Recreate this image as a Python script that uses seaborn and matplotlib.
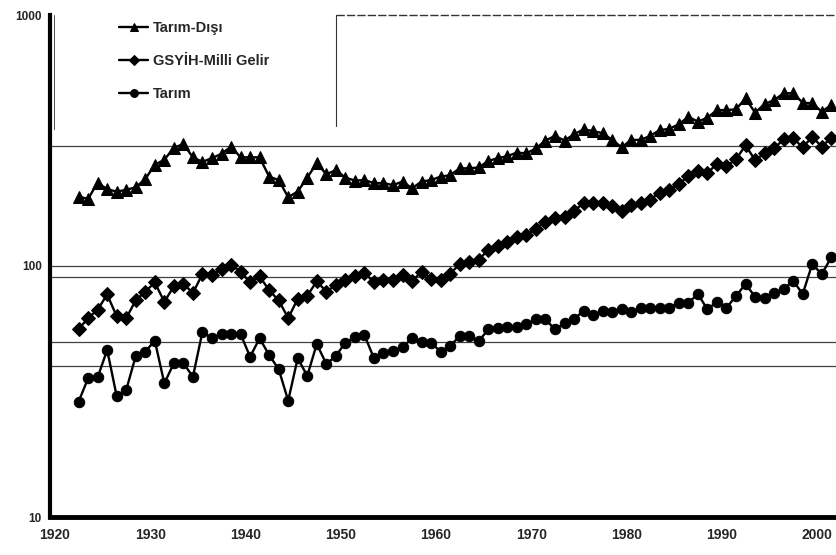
import matplotlib
matplotlib.use("Agg")
import matplotlib.pyplot as plt
import matplotlib.transforms as mtrans
import seaborn as sns
from matplotlib.ticker import MultipleLocator, NullLocator

# yillar ve seriler (endeks, log olcek)
years = list(range(1923, 2003))

tarim_disi = [189, 185, 215, 202, 198, 201, 206, 222, 253, 265,
              296, 306, 271, 260, 269, 280, 299, 271, 271, 271,
              227, 220, 188, 198, 225, 257, 232, 241, 225, 219,
              220, 214, 214, 210, 217, 204, 217, 220, 227, 230,
              245, 245, 247, 262, 269, 274, 283, 281, 294, 316,
              330, 316, 335, 350, 345, 338, 318, 297, 318, 318,
              330, 348, 352, 367, 393, 376, 390, 418, 418, 421,
              466, 408, 442, 458, 488, 488, 447, 445, 412, 438]

gsyih = [56, 62, 67, 77, 63, 62, 73, 79, 86, 72,
         83, 85, 78, 93, 92, 97, 101, 95, 86, 91,
         80, 73, 62, 74, 76, 87, 79, 84, 88, 91,
         94, 86, 88, 88, 92, 87, 95, 89, 88, 93,
         102, 104, 106, 116, 120, 125, 131, 133, 141, 150,
         155, 157, 166, 178, 178, 178, 174, 165, 175, 178,
         184, 196, 201, 212, 228, 238, 235, 255, 250, 266,
         303, 264, 281, 294, 320, 323, 297, 327, 299, 324]

tarim = [28.8, 35.7, 36.0, 46.3, 30.3, 32.1, 43.8, 45.6, 50.4, 34.1,
         41.0, 41.0, 36.2, 54.7, 51.5, 53.6, 53.6, 53.6, 43.5, 51.5,
         44.2, 38.8, 29.1, 42.9, 36.5, 48.9, 40.7, 43.8, 49.5, 52.0,
         53.1, 42.9, 45.2, 46.0, 47.5, 51.5, 49.9, 49.4, 45.6, 48.0,
         52.6, 52.6, 50.2, 55.9, 56.5, 57.0, 57.3, 58.7, 61.3, 61.3,
         55.9, 59.1, 61.3, 66.4, 63.8, 66.2, 65.8, 67.2, 65.8, 68.2,
         67.9, 68.2, 68.2, 71.4, 71.4, 77.3, 67.2, 72.1, 68.2, 75.9,
         84.8, 75.4, 74.7, 78.3, 80.8, 87.4, 77.3, 101.9, 92.7, 108.3]

series_names = ["Tarım-Dışı", "GSYİH-Milli Gelir", "Tarım"]
grid_levels = [40, 50, 90, 100, 300]

sns.set_style("white")
plt.rcParams['font.family'] = ['Liberation Sans Narrow', 'Liberation Sans', 'DejaVu Sans']

fig = plt.figure(figsize=(8.37, 5.55), dpi=100)
ax = fig.add_axes([50/837, 38/555, 787/837, 502/555])

# yatay cizgiler
for lev in grid_levels:
    ax.axhline(lev, color='0.25', lw=0.9, zorder=0)

styles = [('^', 8.5), ('D', 7), ('o', 7.5)]
for name, vals, (mk, ms) in zip(series_names, [tarim_disi, gsyih, tarim], styles):
    sns.lineplot(x=years, y=vals, marker=mk, markersize=ms, color='black',
                 linewidth=1.7, markeredgecolor='black', label=name, ax=ax, zorder=3)

ax.set_yscale('log')
ax.set_ylim(10, 1000)
ax.set_xlim(1920, 2002.6)

# kutu cizgileri (taranmis grafikteki)
ax.plot([1950, 1950], [362, 1000], color='0.2', lw=0.8, clip_on=False)
ax.plot([1950, 2003], [1000, 1000], color='0.2', lw=1.0, ls=(0, (6, 1.5)), clip_on=False)
ax.plot([1920.4, 1920.4], [350, 1000], color='0.3', lw=0.7, clip_on=False)

ax.set_yticks([10, 100, 1000])
ax.set_yticklabels(['10', '100', '1000'])
ax.yaxis.set_minor_locator(NullLocator())
ax.set_xticks(range(1920, 2001, 10))
ax.xaxis.set_minor_locator(MultipleLocator(5))
ax.tick_params(axis='both', which='both', direction='out', width=1.5)
ax.tick_params(axis='x', which='both', length=5, labelsize=10, pad=3)
ax.tick_params(axis='y', length=4, pad=2, labelsize=8.5)
for lbl in ax.get_xticklabels() + ax.get_yticklabels():
    lbl.set_fontweight('bold')

# yil etiketleri biraz saga kaymis
offset = mtrans.ScaledTranslation(5/100, 0, fig.dpi_scale_trans)
for lbl in ax.get_xticklabels():
    lbl.set_transform(lbl.get_transform() + offset)

for s in ['top', 'right']:
    ax.spines[s].set_visible(False)
ax.spines['left'].set_linewidth(3)
ax.spines['bottom'].set_linewidth(3.5)
ax.spines['left'].set_color('black')
ax.spines['bottom'].set_color('black')
ax.set_xlabel('')
ax.set_ylabel('')

ax.legend(loc='upper left', bbox_to_anchor=(106/837, 1 - 8/555), bbox_transform=fig.transFigure,
          frameon=False, labelspacing=1.3, handlelength=2.0, handletextpad=0.3,
          prop={'weight': 'bold', 'size': 10.5}, markerscale=0.75)

plt.savefig('out.png', dpi=100)
